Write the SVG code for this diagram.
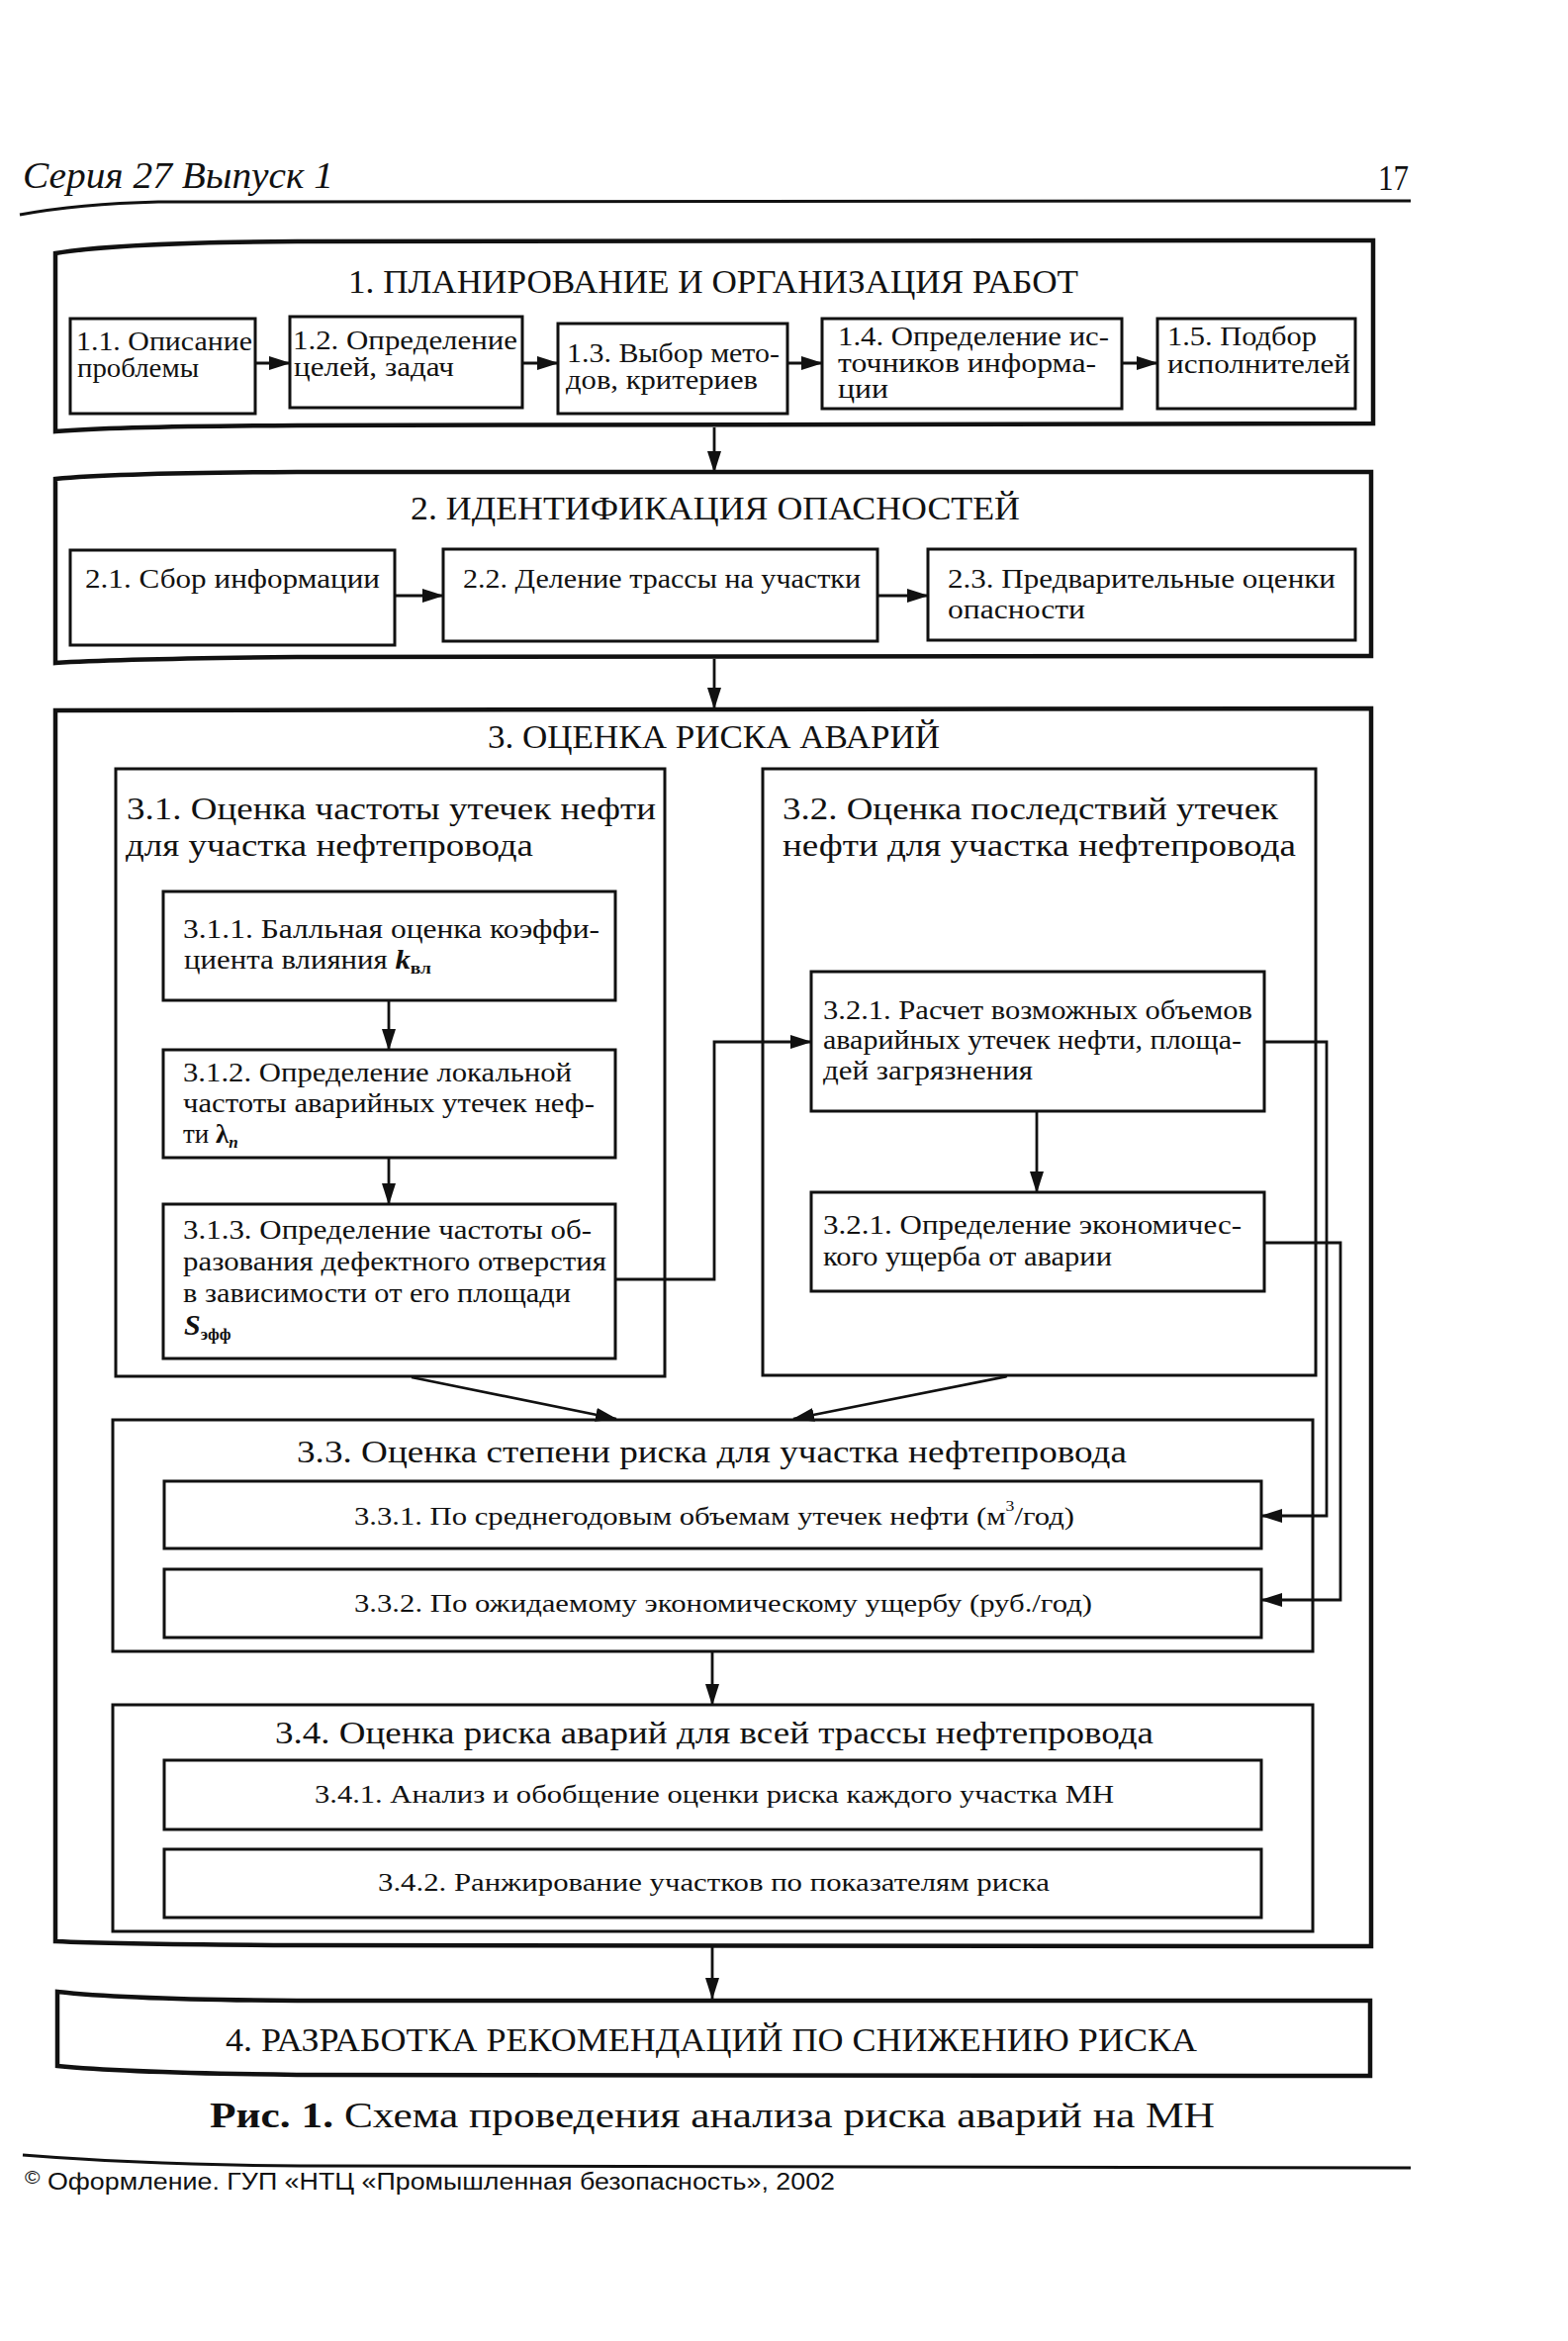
<svg xmlns="http://www.w3.org/2000/svg" width="1585" height="2366" viewBox="0 0 1585 2366">
<style>
text{font-family:"Liberation Serif","Times New Roman",serif;fill:#111;}
.h{font-size:33px;}
.s{font-size:31px;}
.t{font-size:27px;}
.b{font-size:26px;}
.sec{fill:none;stroke:#111;stroke-width:4.5;}
.box{fill:none;stroke:#111;stroke-width:3;}
.con{fill:none;stroke:#111;stroke-width:2.8;}
</style>
<defs>
<marker id="ah" markerUnits="userSpaceOnUse" markerWidth="22" markerHeight="14" refX="21" refY="7" orient="auto">
<path d="M0,0 L22,7 L0,14 Z" fill="#111"/>
</marker>
</defs>
<rect width="1585" height="2366" fill="#fff"/>

<g id="header">
<text x="23" y="190" font-size="38" font-style="italic" textLength="314" lengthAdjust="spacingAndGlyphs">Серия 27  Выпуск 1</text>
<text x="1393" y="192" font-size="36" textLength="31" lengthAdjust="spacingAndGlyphs">17</text>
<path d="M20,217 Q80,206 160,204 L1426,203" fill="none" stroke="#111" stroke-width="3"/>
</g>

<g id="sec1">
<path class="sec" d="M56,256 Q120,245 300,244 L1388,243 L1388,428 L300,430 Q120,431 56,436 Z"/>
<text class="h" x="352" y="296" textLength="738" lengthAdjust="spacingAndGlyphs">1. ПЛАНИРОВАНИЕ И ОРГАНИЗАЦИЯ РАБОТ</text>
</g>
<g id="n1_1">
<rect class="box" x="71" y="322" width="187" height="96"/>
<text class="t" x="77" y="354" textLength="178" lengthAdjust="spacingAndGlyphs">1.1. Описание</text>
<text class="t" x="78" y="381" textLength="123" lengthAdjust="spacingAndGlyphs">проблемы</text>
</g>
<g id="n1_2">
<rect class="box" x="293" y="320" width="235" height="92"/>
<text class="t" x="296" y="353" textLength="227" lengthAdjust="spacingAndGlyphs">1.2. Определение</text>
<text class="t" x="297" y="380" textLength="162" lengthAdjust="spacingAndGlyphs">целей, задач</text>
</g>
<g id="n1_3">
<rect class="box" x="564" y="327" width="232" height="91"/>
<text class="t" x="573" y="366" textLength="215" lengthAdjust="spacingAndGlyphs">1.3. Выбор мето-</text>
<text class="t" x="572" y="393" textLength="194" lengthAdjust="spacingAndGlyphs">дов, критериев</text>
</g>
<g id="n1_4">
<rect class="box" x="831" y="322" width="303" height="91"/>
<text class="t" x="847" y="349" textLength="274" lengthAdjust="spacingAndGlyphs">1.4. Определение ис-</text>
<text class="t" x="847" y="376" textLength="261" lengthAdjust="spacingAndGlyphs">точников информа-</text>
<text class="t" x="847" y="402" textLength="51" lengthAdjust="spacingAndGlyphs">ции</text>
</g>
<g id="n1_5">
<rect class="box" x="1170" y="322" width="200" height="91"/>
<text class="t" x="1180" y="349" textLength="151" lengthAdjust="spacingAndGlyphs">1.5. Подбор</text>
<text class="t" x="1180" y="377" textLength="185" lengthAdjust="spacingAndGlyphs">исполнителей</text>
</g>

<g id="sec2">
<path class="sec" d="M56,484 Q120,478 300,477 L1386,477 L1386,663 L300,664 Q120,666 56,670 Z"/>
<text class="h" x="415" y="525" textLength="616" lengthAdjust="spacingAndGlyphs">2. ИДЕНТИФИКАЦИЯ ОПАСНОСТЕЙ</text>
</g>
<g id="n2_1">
<rect class="box" x="71" y="556" width="328" height="96"/>
<text class="t" x="86" y="594" textLength="298" lengthAdjust="spacingAndGlyphs">2.1. Сбор информации</text>
</g>
<g id="n2_2">
<rect class="box" x="448" y="555" width="439" height="93"/>
<text class="t" x="468" y="594" textLength="402" lengthAdjust="spacingAndGlyphs">2.2. Деление трассы на участки</text>
</g>
<g id="n2_3">
<rect class="box" x="938" y="555" width="432" height="92"/>
<text class="t" x="958" y="594" textLength="392" lengthAdjust="spacingAndGlyphs">2.3. Предварительные оценки</text>
<text class="t" x="958" y="625" textLength="139" lengthAdjust="spacingAndGlyphs">опасности</text>
</g>

<g id="sec3">
<path class="sec" d="M56,718 L1386,716 L1386,1967 L300,1966 Q120,1965 56,1962 Z"/>
<text class="h" x="493" y="756" textLength="457" lengthAdjust="spacingAndGlyphs">3. ОЦЕНКА РИСКА АВАРИЙ</text>
</g>
<g id="n3_1">
<rect class="box" x="117" y="777" width="555" height="614"/>
<text class="s" x="128" y="828" textLength="535" lengthAdjust="spacingAndGlyphs">3.1. Оценка частоты утечек нефти</text>
<text class="s" x="127" y="865" textLength="412" lengthAdjust="spacingAndGlyphs">для участка нефтепровода</text>
</g>
<g id="n3_1_1">
<rect class="box" x="165" y="901" width="457" height="110"/>
<text class="t" x="185" y="948" textLength="421" lengthAdjust="spacingAndGlyphs">3.1.1. Балльная оценка коэффи-</text>
<text class="t" x="186" y="979" textLength="250" lengthAdjust="spacingAndGlyphs">циента влияния <tspan font-style="italic" font-weight="bold">k</tspan><tspan font-size="17" font-weight="bold" dy="5">вл</tspan></text>
</g>
<g id="n3_1_2">
<rect class="box" x="165" y="1061" width="457" height="109"/>
<text class="t" x="185" y="1093" textLength="393" lengthAdjust="spacingAndGlyphs">3.1.2. Определение локальной</text>
<text class="t" x="185" y="1124" textLength="416" lengthAdjust="spacingAndGlyphs">частоты аварийных утечек неф-</text>
<text class="t" x="185" y="1155">ти <tspan font-weight="bold">λ</tspan><tspan font-size="17" font-style="italic" font-weight="bold" dy="5">n</tspan></text>
</g>
<g id="n3_1_3">
<rect class="box" x="165" y="1217" width="457" height="156"/>
<text class="t" x="185" y="1252" textLength="413" lengthAdjust="spacingAndGlyphs">3.1.3. Определение частоты об-</text>
<text class="t" x="185" y="1284" textLength="428" lengthAdjust="spacingAndGlyphs">разования дефектного отверстия</text>
<text class="t" x="185" y="1316" textLength="392" lengthAdjust="spacingAndGlyphs">в зависимости от его площади</text>
<text class="t" x="186" y="1349"><tspan font-style="italic" font-weight="bold" font-size="30">S</tspan><tspan font-size="17" font-weight="bold" dy="5">эфф</tspan></text>
</g>
<g id="n3_2">
<rect class="box" x="771" y="777" width="559" height="613"/>
<text class="s" x="791" y="828" textLength="501" lengthAdjust="spacingAndGlyphs">3.2. Оценка последствий утечек</text>
<text class="s" x="791" y="865" textLength="519" lengthAdjust="spacingAndGlyphs">нефти для участка нефтепровода</text>
</g>
<g id="n3_2_1a">
<rect class="box" x="820" y="982" width="458" height="141"/>
<text class="t" x="832" y="1030" textLength="434" lengthAdjust="spacingAndGlyphs">3.2.1. Расчет возможных объемов</text>
<text class="t" x="832" y="1060" textLength="423" lengthAdjust="spacingAndGlyphs">аварийных утечек нефти, площа-</text>
<text class="t" x="832" y="1091" textLength="212" lengthAdjust="spacingAndGlyphs">дей загрязнения</text>
</g>
<g id="n3_2_1b">
<rect class="box" x="820" y="1205" width="458" height="100"/>
<text class="t" x="832" y="1247" textLength="423" lengthAdjust="spacingAndGlyphs">3.2.1. Определение экономичес-</text>
<text class="t" x="832" y="1279" textLength="292" lengthAdjust="spacingAndGlyphs">кого ущерба от аварии</text>
</g>
<g id="n3_3">
<rect class="box" x="114" y="1435" width="1213" height="234"/>
<text class="s" x="300" y="1478" textLength="839" lengthAdjust="spacingAndGlyphs">3.3. Оценка степени риска для участка нефтепровода</text>
</g>
<g id="n3_3_1">
<rect class="box" x="166" y="1497" width="1109" height="68"/>
<text class="b" x="358" y="1541" textLength="728" lengthAdjust="spacingAndGlyphs">3.3.1. По среднегодовым объемам утечек нефти (м<tspan font-size="15" dy="-14">3</tspan><tspan dy="14">/год)</tspan></text>
</g>
<g id="n3_3_2">
<rect class="box" x="166" y="1586" width="1109" height="69"/>
<text class="b" x="358" y="1629" textLength="746" lengthAdjust="spacingAndGlyphs">3.3.2. По ожидаемому экономическому ущербу (руб./год)</text>
</g>
<g id="n3_4">
<rect class="box" x="114" y="1723" width="1213" height="229"/>
<text class="s" x="278" y="1762" textLength="888" lengthAdjust="spacingAndGlyphs">3.4. Оценка риска аварий для всей трассы нефтепровода</text>
</g>
<g id="n3_4_1">
<rect class="box" x="166" y="1779" width="1109" height="70"/>
<text class="b" x="318" y="1822" textLength="808" lengthAdjust="spacingAndGlyphs">3.4.1. Анализ и обобщение оценки риска каждого участка МН</text>
</g>
<g id="n3_4_2">
<rect class="box" x="166" y="1869" width="1109" height="69"/>
<text class="b" x="382" y="1911" textLength="679" lengthAdjust="spacingAndGlyphs">3.4.2. Ранжирование участков по показателям риска</text>
</g>

<g id="sec4">
<path class="sec" d="M58,2013 Q130,2021 300,2022 L1385,2022 L1385,2098 L300,2097 Q130,2095 58,2088 Z"/>
<text class="h" x="228" y="2073" textLength="982" lengthAdjust="spacingAndGlyphs">4. РАЗРАБОТКА РЕКОМЕНДАЦИЙ ПО СНИЖЕНИЮ РИСКА</text>
</g>

<g id="connectors">
<line class="con" x1="258" y1="367" x2="293" y2="367" marker-end="url(#ah)"/>
<line class="con" x1="528" y1="367" x2="564" y2="367" marker-end="url(#ah)"/>
<line class="con" x1="796" y1="367" x2="831" y2="367" marker-end="url(#ah)"/>
<line class="con" x1="1134" y1="367" x2="1170" y2="367" marker-end="url(#ah)"/>
<line class="con" x1="722" y1="432" x2="722" y2="477" marker-end="url(#ah)"/>
<line class="con" x1="399" y1="602" x2="448" y2="602" marker-end="url(#ah)"/>
<line class="con" x1="887" y1="602" x2="938" y2="602" marker-end="url(#ah)"/>
<line class="con" x1="722" y1="666" x2="722" y2="716" marker-end="url(#ah)"/>
<line class="con" x1="393" y1="1011" x2="393" y2="1061" marker-end="url(#ah)"/>
<line class="con" x1="393" y1="1170" x2="393" y2="1217" marker-end="url(#ah)"/>
<line class="con" x1="1048" y1="1123" x2="1048" y2="1205" marker-end="url(#ah)"/>
<polyline class="con" points="622,1293 722,1293 722,1053 820,1053" marker-end="url(#ah)"/>
<polyline class="con" points="1278,1053 1341,1053 1341,1532 1275,1532" marker-end="url(#ah)"/>
<polyline class="con" points="1278,1256 1355,1256 1355,1617 1275,1617" marker-end="url(#ah)"/>
<line class="con" x1="416" y1="1392" x2="623" y2="1434" marker-end="url(#ah)"/>
<line class="con" x1="1018" y1="1391" x2="802" y2="1434" marker-end="url(#ah)"/>
<line class="con" x1="720" y1="1669" x2="720" y2="1723" marker-end="url(#ah)"/>
<line class="con" x1="720" y1="1967" x2="720" y2="2020" marker-end="url(#ah)"/>
</g>

<g id="footer">
<text x="212" y="2150" font-size="35" textLength="1016" lengthAdjust="spacingAndGlyphs"><tspan font-weight="bold">Рис. 1.</tspan> Схема проведения анализа риска аварий на МН</text>
<path d="M23,2178 Q150,2188 303,2189 L1426,2191" fill="none" stroke="#111" stroke-width="3"/>
<text x="25" y="2213" font-size="23" style="font-family:'Liberation Sans',Arial,sans-serif" textLength="819" lengthAdjust="spacingAndGlyphs"><tspan font-size="18" dy="-6">©</tspan><tspan dy="6">  Оформление. ГУП «НТЦ «Промышленная безопасность», 2002</tspan></text>
</g>
</svg>
